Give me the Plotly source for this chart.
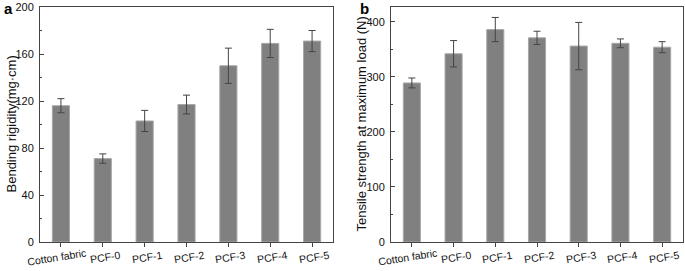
import plotly.graph_objects as go

categories = ["Cotton fabric", "PCF-0", "PCF-1", "PCF-2", "PCF-3", "PCF-4", "PCF-5"]
bending = [116, 71, 103, 117, 150, 169, 171]
bending_err = [6, 4, 9, 8, 15, 12, 9]
tensile = [289, 342, 386, 371, 356, 361, 354]
tensile_err = [9, 24, 22, 12, 43, 8, 10]

bar_style = dict(marker=dict(color="#808080", line=dict(color="#a8a8a8", width=1)), width=0.41,
                 showlegend=False)
err_style = dict(type="data", color="#444444", thickness=1, width=3.5, visible=True)

fig = go.Figure()
fig.add_trace(go.Bar(x=categories, y=bending, error_y=dict(array=bending_err, **err_style),
                     xaxis="x", yaxis="y", **bar_style))
fig.add_trace(go.Bar(x=categories, y=tensile, error_y=dict(array=tensile_err, **err_style),
                     xaxis="x2", yaxis="y2", **bar_style))

font_family = "Liberation Sans, Arial, sans-serif"
xcommon = dict(showline=True, linecolor="#444", linewidth=1, mirror=True, ticks="outside",
               ticklen=4, tickcolor="#444", showticklabels=False,
               showgrid=False, range=[-0.5, 6.5], automargin=False)
ycommon = dict(showline=True, linecolor="#444", linewidth=1, mirror=True, ticks="inside",
               ticklen=4, tickcolor="#444", tickfont=dict(size=11, color="#111"),
               showgrid=False, zeroline=False, automargin=False, ticklabelstandoff=3)

annotations = []
for xa in ["x", "x2"]:
    for i, c in enumerate(categories):
        annotations.append(dict(text=c, xref=xa, yref="paper", x=c, y=0, yshift=-15,
                                xshift=-4 if i == 0 else 2,
                                textangle=-9, showarrow=False, font=dict(size=10.5, color="#111"),
                                xanchor="center", yanchor="middle"))

annotations += [
    dict(text="Bending rigidity(mg·cm)", xref="paper", yref="paper", x=(11 - 40) / 643, y=0.5,
         textangle=-90, showarrow=False, font=dict(size=13, color="#111"),
         xanchor="center", yanchor="middle"),
    dict(text="Tensile strength at maximum load (N)", xref="paper", yref="paper", x=(361 - 40) / 643,
         y=0.5, textangle=-90, showarrow=False, font=dict(size=13, color="#111"),
         xanchor="center", yanchor="middle"),
    dict(text="<b>a</b>", xref="paper", yref="paper", x=(8 - 40) / 643, y=(242 - 8) / 235,
         showarrow=False, font=dict(size=15, color="#000"), xanchor="center", yanchor="middle"),
    dict(text="<b>b</b>", xref="paper", yref="paper", x=(364 - 40) / 643, y=(242 - 8) / 235,
         showarrow=False, font=dict(size=15, color="#000"), xanchor="center", yanchor="middle"),
]

fig.update_layout(
    width=685, height=271,
    margin=dict(l=40, r=2, t=7, b=29, autoexpand=False),
    paper_bgcolor="white", plot_bgcolor="white",
    font=dict(family=font_family, color="#111"),
    xaxis=dict(domain=[0, 0.4557], anchor="y", **xcommon),
    xaxis2=dict(domain=[0.5459, 1], anchor="y2", **xcommon),
    yaxis=dict(domain=[0, 1], anchor="x", range=[0, 200], tickvals=[0, 40, 80, 120, 160, 200],
               minor=dict(tickvals=[20, 60, 100, 140, 180], ticks="inside", ticklen=2, tickcolor="#444"),
               **ycommon),
    yaxis2=dict(domain=[0, 1], anchor="x2", range=[0, 427], tickvals=[0, 100, 200, 300, 400],
                minor=dict(tickvals=[50, 150, 250, 350], ticks="inside", ticklen=2, tickcolor="#444"),
                **ycommon),
    annotations=annotations,
)

fig.write_html("out.html", config={"displayModeBar": False},
               post_script="document.body.style.margin='0';")
